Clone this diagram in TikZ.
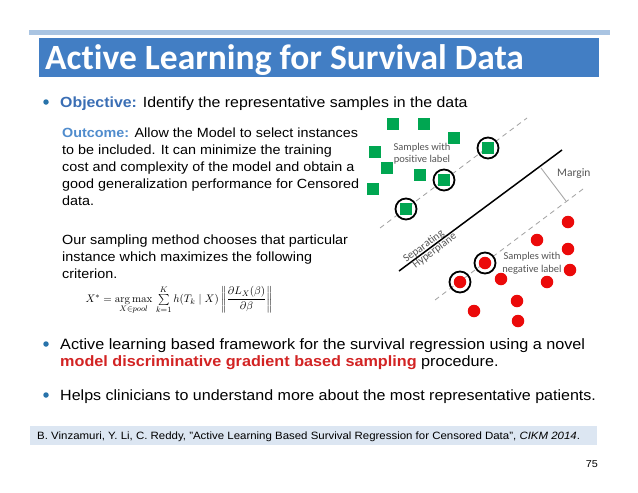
\documentclass[tikz,border=0pt]{standalone}
\usepackage{amsmath}
\usepackage[no-math]{fontspec}
\setmainfont{Liberation Sans}[FakeStretch=1.08]
\newfontfamily\calib{Carlito}[Ligatures=NoCommon]
\usetikzlibrary{calc}
\definecolor{topbar}{RGB}{169,196,226}
\definecolor{titleblue}{RGB}{66,126,196}
\definecolor{objblue}{RGB}{58,110,180}
\definecolor{outblue}{RGB}{80,140,205}
\definecolor{bulletblue}{RGB}{40,115,170}
\definecolor{keyred}{RGB}{210,35,35}
\definecolor{sqgreen}{RGB}{0,166,81}
\definecolor{dotred}{RGB}{235,10,10}
\definecolor{citebg}{RGB}{220,230,242}
\definecolor{labgrey}{RGB}{85,85,85}
\tikzset{
  txt/.style={anchor=base west, inner sep=0pt, align=left},
  bdot/.style={circle, fill=bulletblue, minimum size=5.5pt, inner sep=0pt},
  gsq/.style={fill=sqgreen, minimum size=12pt, inner sep=0pt},
  rdot/.style={circle, fill=dotred, minimum size=12.5pt, inner sep=0pt},
  ring/.style={circle, draw=black, line width=1.8pt, minimum size=21pt, inner sep=0pt},
  marg/.style={dashed, draw=gray!75, line width=0.8pt, dash pattern=on 5pt off 4pt},
  figlab/.style={font=\calib\fontsize{10.5}{12.5}\selectfont, text=labgrey, align=center, inner sep=0pt}
}
\begin{document}
\begin{tikzpicture}[x=1pt,y=-1pt]
\useasboundingbox (0,0) rectangle (638,493);
% header
\fill[topbar] (29,30) rectangle (610,35);
\fill[titleblue] (39,38) rectangle (599,77);
\node[txt, text=white, font=\calib\bfseries\fontsize{35.5}{40}\selectfont] (title) at (45,69) {Active Learning for Survival Data};
% objective
\node[bdot] (b1) at (46,102) {};
\node[txt, font=\fontsize{14.7}{17}\selectfont] (obj) at (60,107.5) {\textcolor{objblue}{\bfseries Objective:} Identify the representative samples in the data};
% outcome (anchor = baseline of last line)
\node[txt, font=\fontsize{13.3}{17}\selectfont] (outc) at (62,205) {\textcolor{outblue}{\bfseries Outcome:} Allow the Model to select instances\\to be included. It can minimize the training\\cost and complexity of the model and obtain a\\good generalization performance for Censored\\data.};
\node[txt, font=\fontsize{13.3}{17}\selectfont] (samp) at (62,278) {Our sampling method chooses that particular\\instance which maximizes the following\\criterion.};
% formula
\node[inner sep=0pt, font=\fontsize{11.4}{13}\selectfont] (form) at (179,300) {$X^{*}=\mathop{\mathrm{arg\,max}}\limits_{X\in pool}\,\sum\limits_{k=1}^{K} h(T_k\mid X)\left\|\dfrac{\partial L_X(\beta)}{\partial\beta}\right\|$};
% bullets 2,3
\node[bdot] (b2) at (46,344) {};
\node[txt, font=\fontsize{15}{17.7}\selectfont] (act) at (60,366.7) {Active learning based framework for the survival regression using a novel\\\textcolor{keyred}{\bfseries model discriminative gradient based sampling} procedure.};
\node[bdot] (b3) at (46,395) {};
\node[txt, font=\fontsize{14.85}{18}\selectfont] (help) at (60,400.7) {Helps clinicians to understand more about the most representative patients.};
% citation
\fill[citebg] (30,426) rectangle (597,445);
\node[txt, font=\fontsize{10.6}{13}\selectfont] (cite) at (37,439.5) {B. Vinzamuri, Y. Li, C. Reddy, "Active Learning Based Survival Regression for Censored Data", \textit{CIKM 2014}.};
\node[anchor=base east, inner sep=0pt, font=\fontsize{10}{12}\selectfont] (pg) at (598,467) {75};
% figure lines
\coordinate (u1) at (380,228); \coordinate (u2) at (527,118);
\coordinate (s1) at (399,271); \coordinate (s2) at (562,150);
\coordinate (l1) at (435,300); \coordinate (l2) at (583,189);
\coordinate (m1) at (541,168); \coordinate (m2) at (566,201);
\draw[marg] (u1) -- (u2);
\draw[marg] (l1) -- (l2);
\draw[black, line width=1.5pt] (s1) -- (s2);
\draw[gray!70, line width=0.9pt] (m1) -- (m2);
\node[figlab, anchor=west, font=\calib\fontsize{11.5}{13}\selectfont] (mlab) at (557,174) {Margin};
% green squares
\node[gsq] (g1) at (393,124) {};
\node[gsq] (g2) at (424,124) {};
\node[gsq] (g3) at (454,138) {};
\node[gsq] (g4) at (375,152) {};
\node[gsq] (g5) at (387,168) {};
\node[gsq] (g6) at (420,175) {};
\node[gsq] (g7) at (373,189) {};
\node[gsq] (g8) at (488,148) {};
\node[gsq] (g9) at (444,180) {};
\node[gsq] (g10) at (406,209) {};
\node[ring] (c1) at (g8) {};
\node[ring] (c2) at (g9) {};
\node[ring] (c3) at (g10) {};
% red dots
\node[rdot] (r1) at (568,222) {};
\node[rdot] (r2) at (537,240) {};
\node[rdot] (r3) at (568,249) {};
\node[rdot] (r4) at (570,270) {};
\node[rdot] (r5) at (547,282) {};
\node[rdot] (r6) at (501,279) {};
\node[rdot] (r7) at (517,301) {};
\node[rdot] (r8) at (474,311) {};
\node[rdot] (r9) at (518,321) {};
\node[rdot] (r10) at (485,263) {};
\node[rdot] (r11) at (460,282) {};
\node[ring] (c4) at (r10) {};
\node[ring] (c5) at (r11) {};
% labels
\node[figlab] (plab) at (422,153.5) {Samples with\\positive label};
\node[figlab] (nlab) at (532,263.5) {Samples with\\negative label};
\node[figlab, font=\calib\fontsize{11}{13}\selectfont, rotate=36.6, anchor=south] (sep) at ($(s1)!0.17!(s2)$) {Separating};
\node[figlab, font=\calib\fontsize{11}{13}\selectfont, rotate=36.6, anchor=north] (hyp) at ($(s1)!0.2!(s2)$) {Hyperplane};
\end{tikzpicture}
\end{document}
